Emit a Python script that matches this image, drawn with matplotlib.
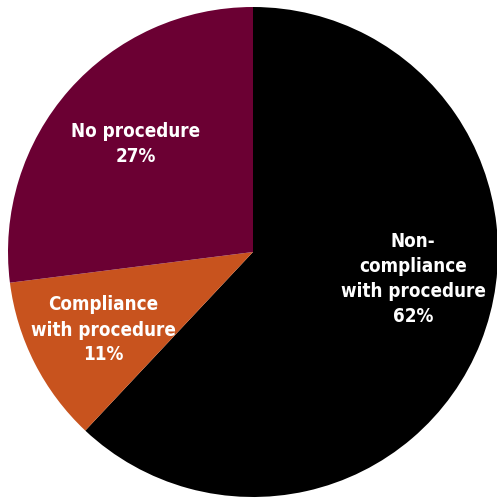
import matplotlib.pyplot as plt

# данные
labels = ['Non-\ncompliance\nwith procedure\n62%', 'Compliance\nwith procedure\n11%', 'No procedure\n27%']
values = [62, 11, 27]
colors = ['#000000', '#C8531E', '#6B0033']
label_pos = [(413, 220), (103, 169), (136, 355)]

fig = plt.figure(figsize=(4.97, 4.99), dpi=100)
ax = fig.add_axes([0, 0, 1, 1])
ax.set_xlim(0, 497)
ax.set_ylim(0, 499)
ax.set_aspect('equal')

ax.pie(values, colors=colors, startangle=90, counterclock=False,
       center=(253, 247), radius=245, frame=True,
       wedgeprops={'linewidth': 0})
ax.axis('off')

for txt, (x, y) in zip(labels, label_pos):
    ax.text(x, y, txt, ha='center', va='center', color='white',
            fontsize=13.5, fontweight='bold', fontstretch='condensed',
            linespacing=1.4, family='DejaVu Sans')

fig.savefig('out.png', dpi=100)
